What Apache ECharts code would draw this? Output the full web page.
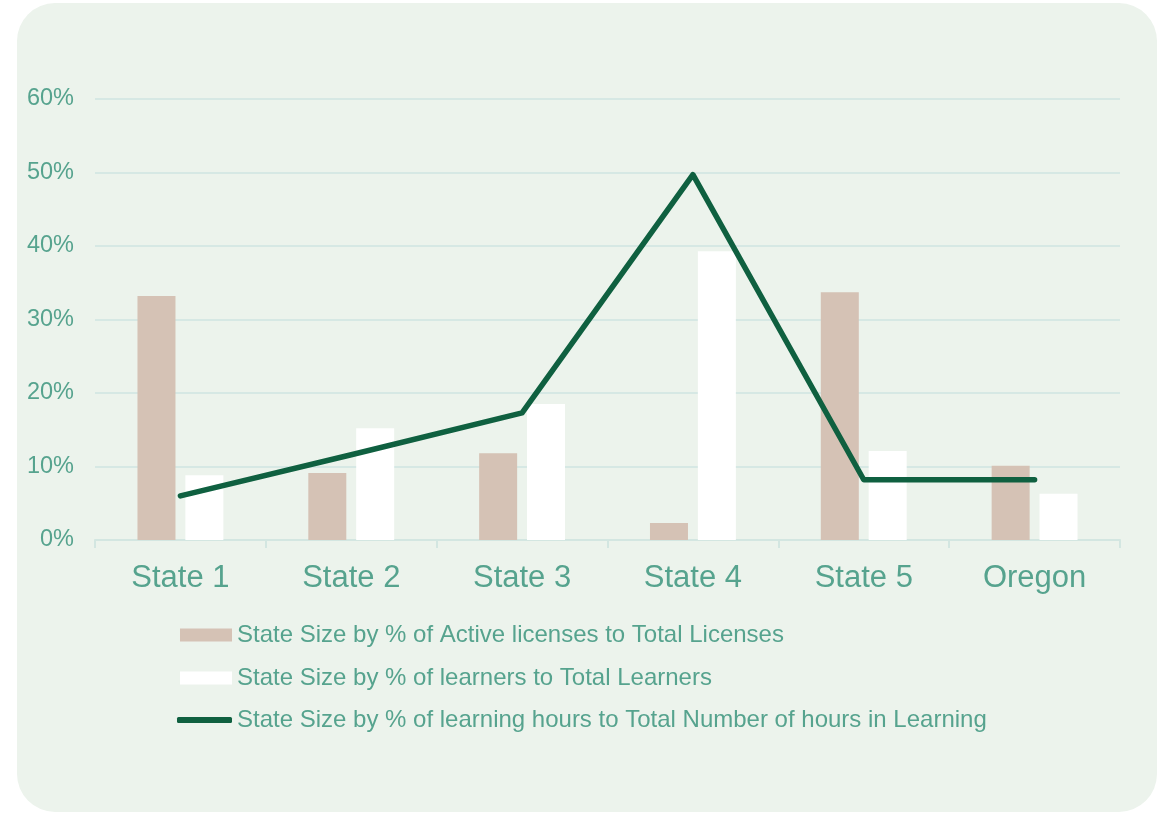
<!DOCTYPE html>
<html><head><meta charset="utf-8">
<script src="https://cdn.jsdelivr.net/npm/echarts@6/dist/echarts.min.js"></script>
<style>
html,body{margin:0;padding:0;background:#fff;}
#wrap{position:absolute;left:17px;top:3px;width:1140px;height:809px;background:#ECF3EC;border-radius:38px;}
#c{position:absolute;left:0;top:0;width:1166px;height:814px;}
</style></head>
<body><div id="wrap"></div><div id="c"></div>
<script>
const categories = ['State 1','State 2','State 3','State 4','State 5','Oregon'];
const licenses = [33.2, 9.1, 11.8, 2.3, 33.7, 10.1];
const learners = [8.8, 15.2, 18.5, 39.3, 12.1, 6.3];
const hours = [6.0, 11.6, 17.3, 49.7, 8.2, 8.2];
const names = ['State Size by % of Active licenses to Total Licenses','State Size by % of learners to Total Learners','State Size by % of learning hours to Total Number of hours in Learning'];
const txt = '#56A38E';
const font = "'Liberation Sans', Arial, sans-serif";
const chart = echarts.init(document.getElementById('c'));
chart.setOption({
  animation:false,
  textStyle:{fontFamily:font},
  grid:{left:95,right:46,top:99,bottom:274,containLabel:false},
  legend:[
    {orient:'vertical',left:175,top:618,itemWidth:52,itemHeight:13,itemGap:19,padding:[5,5,5,5],
     textStyle:{color:txt,fontSize:24,fontFamily:font},
     data:[{name:names[0],icon:'rect'},{name:names[1],icon:'rect'}]},
    {orient:'vertical',left:172,top:703,itemWidth:55,itemHeight:6,
     textStyle:{color:txt,fontSize:24,fontFamily:font},
     data:[{name:names[2],icon:'roundRect'}]}
  ],
  xAxis:{type:'category',data:categories,
    axisLine:{lineStyle:{color:'#D3E6E1',width:2}},
    axisTick:{show:true,length:8,lineStyle:{color:'#D3E6E1',width:2}},
    axisLabel:{color:txt,fontSize:31,fontFamily:font,margin:23}},
  yAxis:{type:'value',min:0,max:60,interval:10,
    axisLabel:{formatter:'{value}%',color:txt,fontSize:23.5,fontFamily:font,margin:21},
    splitLine:{lineStyle:{color:'#D6E8E4',width:2}},
    axisLine:{show:false},axisTick:{show:false}},
  series:[
    {name:names[0],type:'bar',data:licenses,barWidth:38,barGap:'26%',itemStyle:{color:'#D5C2B5'}},
    {name:names[1],type:'bar',data:learners,barWidth:38,itemStyle:{color:'#FFFFFF'}},
    {name:names[2],type:'line',data:hours,symbol:'none',lineStyle:{color:'#0F6040',width:5.5,cap:'round',join:'round'},itemStyle:{color:'#0F6040'}}
  ]
});
</script></body></html>
